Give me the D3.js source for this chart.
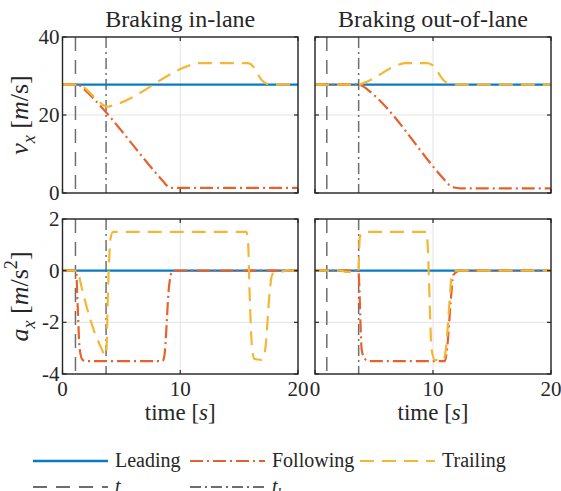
<!DOCTYPE html>
<html>
<head>
<meta charset="utf-8">
<script src="https://cdn.jsdelivr.net/npm/d3@7"></script>
<style>
    body { margin: 0; background: #fff; }
    svg { display: block; }
</style>
</head>
<body>
<div id="chart"></div>
<script>
// chart values
var titles = ["Braking in-lane", "Braking out-of-lane"];
var seriesNames = ["Leading", "Following", "Trailing"];
var xTicks = [0, 10, 20];
var vTicks = [0, 20, 40];
var aTicks = [-4, -2, 0, 2];
var aTickLabels = ["-4", "-2", "0", "2"];
var tA = [1.1, 1.0];
var tB = [3.7, 3.7];

// velocity [t, v]
var inVxLeading = [[0, 27.8], [20, 27.8]];
var inVxFollowing = [[0, 27.8], [1.2, 27.8], [1.5, 27.5], [1.9, 26.4], [8.6, 2.8], [8.9, 1.8], [9.3, 1.3], [20, 1.3]];
var inVxTrailing = [[0, 27.8], [1.3, 27.8], [1.8, 27.2], [2.2, 26.1], [2.9, 24.0], [3.6, 22.3], [3.75, 22.1], [4.3, 22.5],
    [11.1, 33.0], [11.5, 33.3], [15.7, 33.3], [16.0, 33.0], [17.0, 28.7], [17.5, 27.9], [18.2, 27.8], [20, 27.8]];
var outVxLeading = [[0, 27.8], [20, 27.8]];
var outVxFollowing = [[0, 27.8], [3.7, 27.8], [4.0, 27.5], [4.5, 26.4], [11.0, 3.3], [11.4, 2.0], [11.8, 1.4], [12.3, 1.2], [20, 1.2]];
var outVxTrailing = [[0, 27.8], [3.7, 27.8], [4.2, 28.3], [7.2, 33.0], [7.6, 33.3], [9.5, 33.3], [9.9, 32.9], [11.0, 28.6],
    [11.6, 27.9], [12.2, 27.8], [20, 27.8]];

// acceleration [t, a]
var inAxLeading = [[0, 0], [20, 0]];
var inAxFollowing = [[0, 0], [1.15, 0], [1.3, -1.5], [1.45, -3.0], [1.7, -3.45], [2.0, -3.5], [8.5, -3.5], [8.65, -3.3],
    [9.05, -0.6], [9.25, -0.08], [9.5, 0], [20, 0]];
var inAxTrailing = [[0, 0], [1.3, 0], [1.5, -0.4], [2.05, -1.4], [2.76, -2.43], [3.3, -3.0], [3.62, -3.28], [3.72, -3.2],
    [3.85, -1.0], [4.0, 0.8], [4.1, 1.3], [4.3, 1.5], [15.6, 1.5], [15.75, 1.2], [15.9, -1.0], [16.1, -3.0], [16.3, -3.42],
    [16.9, -3.45], [17.2, -3.1], [17.6, -0.8], [17.76, -0.23], [17.9, -0.1], [18.5, -0.05], [19, 0], [20, 0]];
var outAxLeading = [[0, 0], [20, 0]];
var outAxFollowing = [[0, 0], [3.67, 0], [3.96, -3.07], [4.2, -3.4], [4.5, -3.5], [11.0, -3.5], [11.2, -3.0], [11.5, -1.2],
    [11.72, -0.17], [12.3, 0], [20, 0]];
var outAxTrailing = [[0, 0], [2.2, 0], [2.6, -0.05], [3.5, -0.05], [3.67, 0], [3.8, 1.3], [3.95, 1.42], [4.4, 1.5], [9.45, 1.5],
    [9.52, 1.2], [9.89, -3.07], [10.17, -3.46], [10.87, -3.46], [11.1, -3.0], [11.4, -1.2], [11.58, -0.23], [12.0, 0], [20, 0]];

var colors = { Leading: "#0b7bc1", Following: "#e6612b", Trailing: "#f5b733" };
var dashes = { Leading: null, Following: "13,4,2,4", Trailing: "14,8" };
var gray = "#6e6e6e";
var serif = "'Liberation Serif'";

var areaWidth = 561, areaHeight = 491;
var colX = [[62.5, 298], [315, 551]];
var rowY = [[37, 193], [219, 374]];

var svg = d3.select("#chart").append("svg")
    .attr("width", areaWidth)
    .attr("height", areaHeight)
    .style("font-family", serif);

// writes math-like text made of tspans (italic, sub and superscripts)
function mathText(sel, parts, size) {
    var shift = 0;
    sel.style("font-family", serif).style("fill", "#262626");
    parts.forEach(function(p) {
        var target = p.sub ? size * 0.25 : p.sup ? -size * 0.42 : 0;
        sel.append("tspan")
            .text(p.t)
            .attr("dy", target - shift)
            .style("font-family", serif)
            .style("font-style", p.i ? "italic" : "normal")
            .style("font-size", (p.sub || p.sup ? size * 0.7 : size) + "px");
        shift = target;
    });
}

// function for drawing one panel
function drawPanel(col, row, data, yDomain, yTicks, yLabels) {
    var x = d3.scaleLinear().domain([0, 20]).range(colX[col]);
    var y = d3.scaleLinear().domain(yDomain).range([rowY[row][1], rowY[row][0]]);
    var g = svg.append("g");
    var id = "clip" + col + row;

    svg.append("clipPath").attr("id", id)
        .append("rect")
        .attr("x", colX[col][0]).attr("y", rowY[row][0])
        .attr("width", colX[col][1] - colX[col][0])
        .attr("height", rowY[row][1] - rowY[row][0]);

    // grid
    g.selectAll(".gx").data(xTicks).enter().append("line")
        .attr("x1", function(d) { return x(d); }).attr("x2", function(d) { return x(d); })
        .attr("y1", rowY[row][0]).attr("y2", rowY[row][1])
        .style("stroke", "#e3e3e3").style("stroke-width", 1);
    g.selectAll(".gy").data(yTicks).enter().append("line")
        .attr("x1", colX[col][0]).attr("x2", colX[col][1])
        .attr("y1", function(d) { return y(d); }).attr("y2", function(d) { return y(d); })
        .style("stroke", "#e3e3e3").style("stroke-width", 1);

    var plot = g.append("g").attr("clip-path", "url(#" + id + ")");

    // event lines
    plot.append("line")
        .attr("x1", x(tA[col])).attr("x2", x(tA[col]))
        .attr("y1", rowY[row][0]).attr("y2", rowY[row][1])
        .style("stroke", gray).style("stroke-width", 1.5).style("stroke-dasharray", "14,9");
    plot.append("line")
        .attr("x1", x(tB[col])).attr("x2", x(tB[col]))
        .attr("y1", rowY[row][0]).attr("y2", rowY[row][1])
        .style("stroke", gray).style("stroke-width", 1.5).style("stroke-dasharray", "11,4,2,4");

    var line = d3.line()
        .x(function(d) { return x(d[0]); })
        .y(function(d) { return y(d[1]); })
        .curve(d3.curveMonotoneX);

    seriesNames.forEach(function(name, i) {
        plot.append("path")
            .attr("d", line(data[i]))
            .style("fill", "none")
            .style("stroke", colors[name])
            .style("stroke-width", 2.2)
            .style("stroke-dasharray", dashes[name]);
    });

    // box
    g.append("rect")
        .attr("x", colX[col][0]).attr("y", rowY[row][0])
        .attr("width", colX[col][1] - colX[col][0])
        .attr("height", rowY[row][1] - rowY[row][0])
        .style("fill", "none").style("stroke", "#262626").style("stroke-width", 1.4);

    // ticks (inside, all four sides)
    xTicks.forEach(function(t) {
        g.append("line").attr("x1", x(t)).attr("x2", x(t))
            .attr("y1", rowY[row][1]).attr("y2", rowY[row][1] - 4)
            .style("stroke", "#262626").style("stroke-width", 1.2);
        g.append("line").attr("x1", x(t)).attr("x2", x(t))
            .attr("y1", rowY[row][0]).attr("y2", rowY[row][0] + 4)
            .style("stroke", "#262626").style("stroke-width", 1.2);
    });
    yTicks.forEach(function(t) {
        g.append("line").attr("x1", colX[col][0]).attr("x2", colX[col][0] + 4)
            .attr("y1", y(t)).attr("y2", y(t))
            .style("stroke", "#262626").style("stroke-width", 1.2);
        g.append("line").attr("x1", colX[col][1]).attr("x2", colX[col][1] - 4)
            .attr("y1", y(t)).attr("y2", y(t))
            .style("stroke", "#262626").style("stroke-width", 1.2);
    });

    if (col == 0) {
        g.selectAll(".yl").data(yTicks).enter().append("text")
            .text(function(d, i) { return yLabels[i]; })
            .attr("x", colX[col][0] - 3)
            .attr("y", function(d) { return y(d) + 7; })
            .style("text-anchor", "end")
            .style("font-family", serif)
            .style("fill", "#262626")
            .style("font-size", "21px");
    }
    if (row == 1) {
        g.selectAll(".xl").data(xTicks).enter().append("text")
            .text(function(d) { return d; })
            .attr("x", function(d) { return x(d); })
            .attr("y", rowY[row][1] + 22)
            .style("text-anchor", "middle")
            .style("font-family", serif)
            .style("fill", "#262626")
            .style("font-size", "21px");
        var xl = g.append("text")
            .attr("x", (colX[col][0] + colX[col][1]) / 2)
            .attr("y", 420)
            .style("text-anchor", "middle");
        mathText(xl, [{ t: "time [" }, { t: "s", i: true }, { t: "]" }], 23);
    }
    if (row == 0) {
        g.append("text")
            .text(titles[col])
            .attr("x", (colX[col][0] + colX[col][1]) / 2)
            .attr("y", 27)
            .style("text-anchor", "middle")
            .style("font-family", serif)
            .style("fill", "#262626")
            .style("font-size", "24px");
    }
}

drawPanel(0, 0, [inVxLeading, inVxFollowing, inVxTrailing], [0, 40], vTicks, vTicks.map(String));
drawPanel(1, 0, [outVxLeading, outVxFollowing, outVxTrailing], [0, 40], vTicks, vTicks.map(String));
drawPanel(0, 1, [inAxLeading, inAxFollowing, inAxTrailing], [-4, 2], aTicks, aTickLabels);
drawPanel(1, 1, [outAxLeading, outAxFollowing, outAxTrailing], [-4, 2], aTicks, aTickLabels);

// y labels
var vl = svg.append("text")
    .attr("transform", "translate(28," + (rowY[0][0] + rowY[0][1]) / 2 + ") rotate(-90)")
    .style("text-anchor", "middle");
mathText(vl, [{ t: "v", i: true }, { t: "x", i: true, sub: true }, { t: " [" }, { t: "m", i: true }, { t: "/s]" }], 26);
var al = svg.append("text")
    .attr("transform", "translate(28," + (rowY[1][0] + rowY[1][1]) / 2 + ") rotate(-90)")
    .style("text-anchor", "middle");
mathText(al, [{ t: "a", i: true }, { t: "x", i: true, sub: true }, { t: " [" }, { t: "m", i: true }, { t: "/s" }, { t: "2", sup: true }, { t: "]" }], 26);

// legend
var legendItems = [
    { x: 33, y: 461, color: colors.Leading, dash: null, parts: [{ t: "Leading" }] },
    { x: 190, y: 461, color: colors.Following, dash: dashes.Following, parts: [{ t: "Following" }] },
    { x: 360, y: 461, color: colors.Trailing, dash: dashes.Trailing, parts: [{ t: "Trailing" }] },
    { x: 33, y: 487, color: gray, dash: "14,9", parts: [{ t: "t", i: true }, { t: "a", i: true, sub: true }] },
    { x: 190, y: 487, color: gray, dash: "11,4,2,4", parts: [{ t: "t", i: true }, { t: "b", i: true, sub: true }] }
];
legendItems.forEach(function(d) {
    svg.append("line")
        .attr("x1", d.x).attr("x2", d.x + 75)
        .attr("y1", d.y).attr("y2", d.y)
        .style("stroke", d.color)
        .style("stroke-width", d.dash ? 2 : 2.4)
        .style("stroke-dasharray", d.dash);
    var t = svg.append("text").attr("x", d.x + 82).attr("y", d.y + 6);
    mathText(t, d.parts, 20);
});
</script>
</body>
</html>
